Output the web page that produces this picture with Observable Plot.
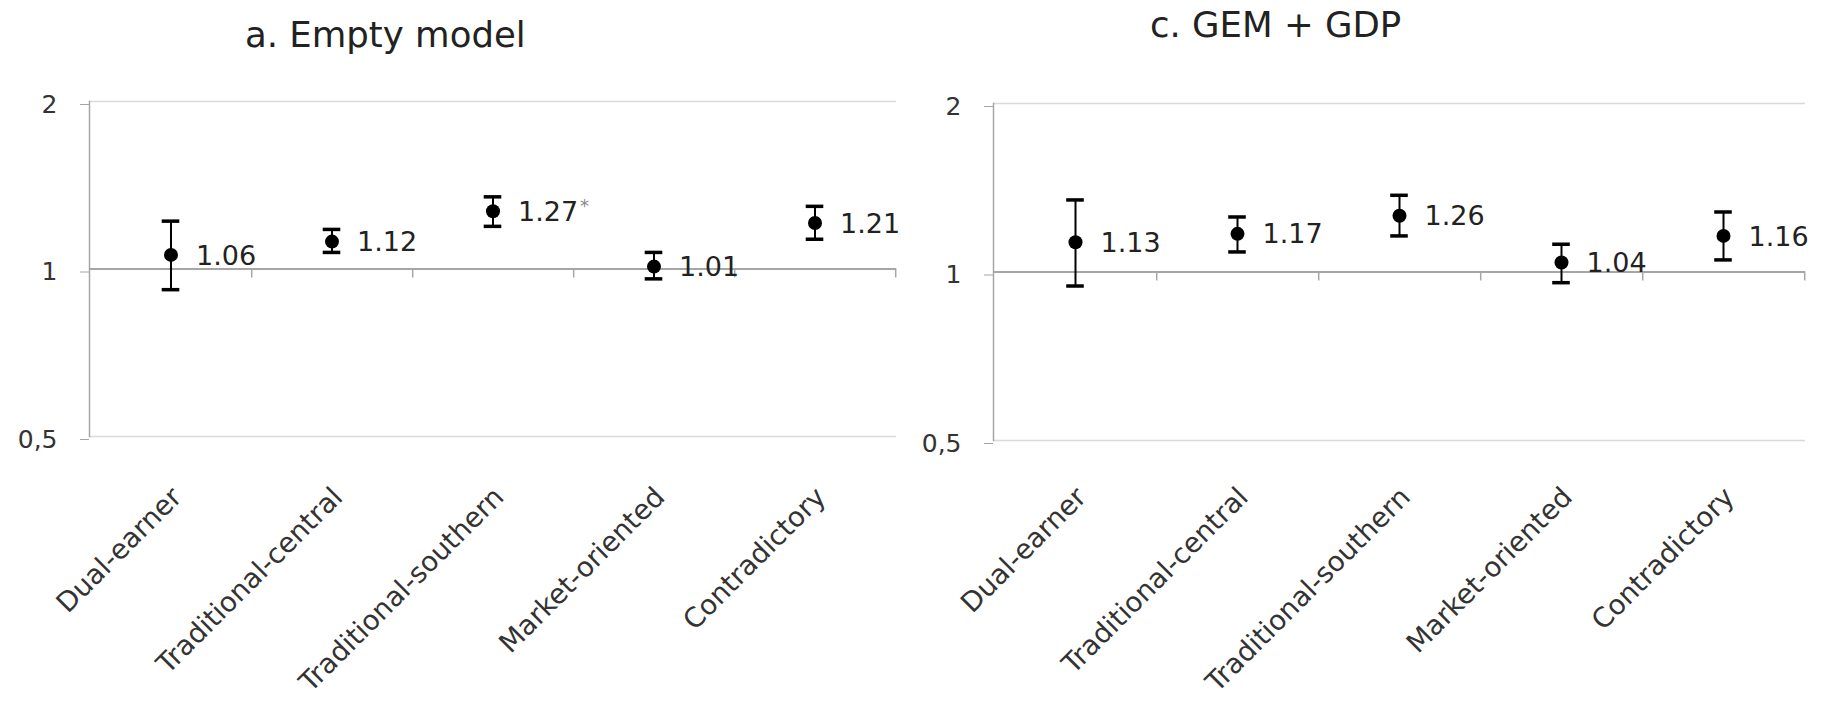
<!DOCTYPE html>
<html>
<head>
<meta charset="utf-8">
<script src="https://cdn.jsdelivr.net/npm/d3@7"></script>
<script src="https://cdn.jsdelivr.net/npm/@observablehq/plot@0.6"></script>
<style>
  html, body { margin: 0; padding: 0; background: #fff; }
  #root { position: relative; width: 1823px; height: 711px; overflow: hidden; background: #fff; }
  .title { position: absolute; font-family: "DejaVu Sans", sans-serif; font-size: 35.5px; line-height: 35.5px; color: #222; white-space: nowrap; }
  .panel { position: absolute; top: 0; }
</style>
</head>
<body>
<div id="root"></div>
<script>
// ---- data ----
const categories = ["Dual-earner", "Traditional-central", "Traditional-southern", "Market-oriented", "Contradictory"];

const titles = ["a. Empty model", "c. GEM + GDP"];

const orEmpty = [1.06, 1.12, 1.27, 1.01, 1.21];
const loEmpty = [0.918, 1.071, 1.193, 0.960, 1.131];
const hiEmpty = [1.219, 1.178, 1.348, 1.071, 1.296];
const labelEmpty = ["1.06", "1.12", "1.27", "1.01", "1.21"];
const sigEmpty = ["", "", "*", "", ""];

const orGem = [1.13, 1.17, 1.26, 1.04, 1.16];
const loGem = [0.944, 1.086, 1.160, 0.957, 1.051];
const hiGem = [1.345, 1.254, 1.371, 1.121, 1.280];
const labelGem = ["1.13", "1.17", "1.26", "1.04", "1.16"];
const sigGem = ["", "", "", "", ""];

const yTicks = [0.5, 1, 2];
const yTickLabels = ["0,5", "1", "2"];

// ---- drawing ----
const root = document.getElementById("root");

function panel({left, width, marginLeft, marginRight, marginTop, marginBottom, catDy, or, lo, hi, labels, sig}) {
  const rows = categories.map((c, i) => ({cat: c, or: or[i], lo: lo[i], hi: hi[i], label: labels[i], sig: sig[i]}));
  const bw = (width - marginLeft - marginRight) / categories.length;
  const capW = 18;
  const axisGray = "#a6a6a6";
  const labelSize = 27;
  const svg = Plot.plot({
    width, height: 711,
    marginLeft, marginRight, marginTop, marginBottom,
    style: {fontFamily: "DejaVu Sans, sans-serif", fontSize: "25px", color: "#333", background: "white"},
    x: {type: "band", domain: categories, padding: 0, axis: null},
    y: {type: "log", domain: [0.5, 2], axis: null},
    marks: [
      Plot.gridY([0.5, 2], {stroke: "#d9d9d9", strokeOpacity: 1, strokeWidth: 1.5}),
      Plot.ruleY([1], {stroke: axisGray, strokeWidth: 2}),
      Plot.ruleX(categories, {x: d => d, y1: () => 1, y2: () => 1, dx: bw / 2, insetBottom: -9, stroke: axisGray, strokeWidth: 1.5}),
      Plot.frame({anchor: "left", stroke: axisGray, strokeWidth: 1.5}),
      Plot.axisY({ticks: yTicks, tickFormat: d => yTickLabels[yTicks.indexOf(d)], tickSize: 9, tickPadding: 23, stroke: axisGray, fill: "#333", fontSize: 25, dy: 3}),
      Plot.ruleX(rows, {x: "cat", y1: "lo", y2: "hi", stroke: "#000", strokeWidth: 2}),
      Plot.tickY(rows, {x: "cat", y: "lo", stroke: "#000", strokeWidth: 3.5, insetLeft: (bw - capW) / 2, insetRight: (bw - capW) / 2}),
      Plot.tickY(rows, {x: "cat", y: "hi", stroke: "#000", strokeWidth: 3.5, insetLeft: (bw - capW) / 2, insetRight: (bw - capW) / 2}),
      Plot.dot(rows, {x: "cat", y: "or", r: 7, fill: "#000", stroke: "none"}),
      Plot.text(rows, {x: "cat", y: "or", text: "label", dx: 25, dy: 1, textAnchor: "start", lineAnchor: "middle", fontSize: labelSize, fill: "#222"}),
      Plot.text(rows, {x: "cat", y: "or", text: "sig", dx: 25 + 2.226 * labelSize + 2, dy: -5, textAnchor: "start", lineAnchor: "middle", fontSize: 18, fill: "#888"}),
      Plot.text(categories, {x: d => d, text: d => d, frameAnchor: "bottom", dy: catDy, dx: 6, rotate: -45, textAnchor: "end", lineAnchor: "middle", fontSize: 27.5, fill: "#333"})
    ]
  });
  svg.classList.add("panel");
  svg.style.left = left + "px";
  root.appendChild(svg);
}

panel({left: 0, width: 910, marginLeft: 89, marginRight: 14, marginTop: 101, marginBottom: 275, catDy: 56,
       or: orEmpty, lo: loEmpty, hi: hiEmpty, labels: labelEmpty, sig: sigEmpty});
panel({left: 910, width: 913, marginLeft: 83, marginRight: 18, marginTop: 103, marginBottom: 271, catDy: 52,
       or: orGem, lo: loGem, hi: hiGem, labels: labelGem, sig: sigGem});

const titlePos = [{left: 245, top: 17}, {left: 1150, top: 7}];
titles.forEach((t, i) => {
  const d = document.createElement("div");
  d.className = "title";
  d.textContent = t;
  d.style.left = titlePos[i].left + "px";
  d.style.top = titlePos[i].top + "px";
  root.appendChild(d);
});
</script>
</body>
</html>
